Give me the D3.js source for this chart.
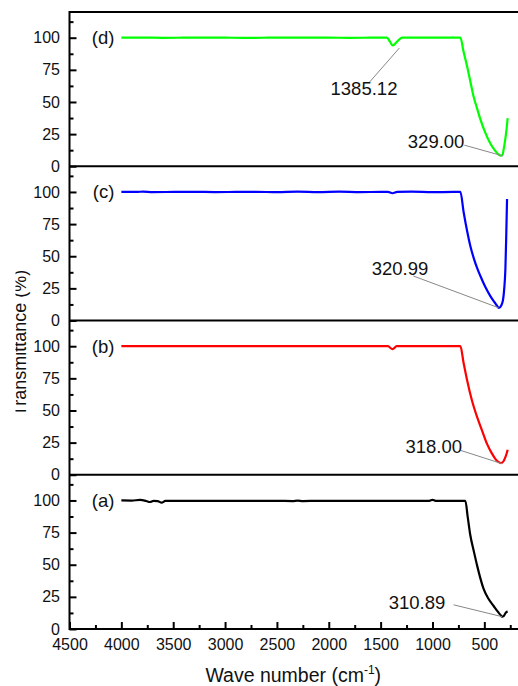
<!DOCTYPE html>
<html>
<head>
<meta charset="utf-8">
<script src="https://cdn.jsdelivr.net/npm/d3@7"></script>
<style>
body { margin: 0; background: #fff; }
svg { display: block; font-family: "Liberation Sans", Arial, sans-serif; }
</style>
</head>
<body>
<div id="chart"></div>
<script>
// x axis
const WAVE_TICKS = [4500, 4000, 3500, 3000, 2500, 2000, 1500, 1000, 500];
const WAVE_MINOR = [4250, 3750, 3250, 2750, 2250, 1750, 1250, 750, 250];
const Y_TICKS = [0, 25, 50, 75, 100];
const Y_MINOR = [12.5, 37.5, 62.5, 87.5, 112.5];

// panels top to bottom
const PANEL_LABELS = ["(d)", "(c)", "(b)", "(a)"];
const PANEL_COLORS = ["#00ff00", "#0000ff", "#ff0000", "#000000"];

// [wave number, transmittance %]
const spectrumD = [[4000,100],[3800,100.1],[3600,99.9],[3400,100],[3200,100.1],[3000,100],[2800,99.9],[2600,100],
	[2400,100.1],[2200,100],[2000,100],[1800,99.9],[1600,100],[1440,100],[1410,97],[1384,94],[1341,97],[1293,100],
	[1100,100],[900,100.1],[760,100],[731,100],[700,89],[666,77.6],[635,66],[603,54],[570,45],[538,36.5],[490,26],
	[442,17.7],[400,12.5],[365,9.3],[340,8.2],[325,8.8],[313,13.5],[300,20],[287,28],[275,37.5]];
const spectrumC = [[4000,100],[3850,100],[3790,100.3],[3700,99.9],[3500,100],[3300,100.1],[3100,99.9],[2900,100],
	[2700,100.1],[2500,99.8],[2300,100.2],[2100,99.8],[1900,100.2],[1700,99.9],[1500,100],[1430,100],[1385,99],
	[1340,100],[1200,100.2],[1000,99.8],[800,100],[731,100],[699,84],[667,70],[635,58],[600,48],[570,41],[538,34.6],
	[490,26],[442,19],[400,14],[375,11.2],[360,9.8],[345,10.6],[330,13],[319,16.4],[308,25],[297,40],[289,65],[281,94.5]];
const spectrumB = [[4000,100],[3600,100],[3200,100],[2800,100],[2400,100],[2000,100],[1600,100],[1430,100],[1385,97.7],
	[1345,100],[1000,100],[731,100],[700,87],[666,73.5],[620,58],[570,45],[520,34],[474,24],[430,17],[394,12.4],
	[365,10],[339,9],[315,10.5],[297,13.7],[285,16.5],[275,19.5]];
const spectrumA = [[4000,100],[3900,99.9],[3820,100.4],[3760,99.6],[3724,98.8],[3690,99.6],[3650,99.5],[3612,98.3],
	[3575,99.6],[3500,99.6],[3300,99.7],[3100,99.6],[2900,99.7],[2700,99.6],[2500,99.7],[2350,99.5],[2300,99.9],
	[2250,99.5],[2100,99.7],[1900,99.6],[1700,99.7],[1500,99.6],[1300,99.7],[1100,99.6],[1030,99.7],[1000,100.5],
	[970,99.7],[800,99.7],[683,99.7],[660,87],[635,72.9],[600,60],[570,49.5],[540,40],[506,31],[460,23.5],[410,17.9],
	[370,13.5],[345,11],[329,9.6],[315,10],[300,11.8],[290,13],[275,13.5]];
const SPECTRA = [spectrumD, spectrumC, spectrumB, spectrumA];

// peak labels: text, point on curve, text anchor, leader start (data units)
const PEAK_TEXT = ["1385.12", "329.00", "320.99", "318.00", "310.89"];
const PEAK_PANEL = [0, 0, 1, 2, 3];
const PEAK_AT = [[1319,92], [319,8], [362,9.9], [329,8.6], [329,9.6]];
const PEAK_LABEL = [[1338,55.5], [692,14], [1040,35.1], [715,16.6], [876,15.4]];
const PEAK_FROM = [[1614,64.8], [692,16.4], [1184,34.6], [731,19], [796,18.8]];

const W = 518, H = 686;
const LEFT = 69.5, RIGHT = 517, TOP = 12, BOTTOM = 629;
const PANEL_H = (BOTTOM - TOP) / PANEL_LABELS.length;

const svg = d3.select("#chart").append("svg")
	.attr("width", W)
	.attr("height", H);

const x = d3.scaleLinear().domain([4500, 185]).range([LEFT, RIGHT]);

PANEL_LABELS.forEach((lab, i) => {
	const top = TOP + i * PANEL_H;
	const y = d3.scaleLinear().domain([0, 120]).range([top + PANEL_H, top]);
	const g = svg.append("g");

	// left ticks, pointing inward
	const ax = g.append("g")
		.attr("transform", `translate(${LEFT},0)`)
		.call(d3.axisLeft(y).tickValues(Y_TICKS).tickSize(-7).tickPadding(9.5));
	ax.select(".domain").remove();
	ax.selectAll("line").attr("stroke-width", 2);
	ax.selectAll("text").style("font-size", "16px").attr("fill", "#111");

	const mn = g.append("g")
		.attr("transform", `translate(${LEFT},0)`)
		.call(d3.axisLeft(y).tickValues(Y_MINOR).tickSize(-4).tickFormat(""));
	mn.select(".domain").remove();
	mn.selectAll("line").attr("stroke-width", 2);

	// spectrum
	const line = d3.line()
		.x(d => x(d[0]))
		.y(d => y(d[1]))
		.curve(d3.curveMonotoneX);
	g.append("path")
		.datum(SPECTRA[i])
		.attr("d", line)
		.attr("fill", "none")
		.attr("stroke", PANEL_COLORS[i])
		.attr("stroke-width", 2.2)
		.attr("stroke-linejoin", "round");

	g.append("text")
		.attr("x", x(4000) - 7)
		.attr("y", y(100))
		.attr("dy", "0.35em")
		.attr("text-anchor", "end")
		.style("font-size", "18.5px")
		.attr("fill", "#111")
		.text(lab);

	// panel bottom line
	g.append("line")
		.attr("x1", LEFT).attr("x2", W)
		.attr("y1", y(0)).attr("y2", y(0))
		.attr("stroke", "#000")
		.attr("stroke-width", 2);

	// peak annotations
	PEAK_TEXT.forEach((t, k) => {
		if (PEAK_PANEL[k] !== i) return;
		g.append("line")
			.attr("x1", x(PEAK_FROM[k][0])).attr("y1", y(PEAK_FROM[k][1]))
			.attr("x2", x(PEAK_AT[k][0])).attr("y2", y(PEAK_AT[k][1]))
			.attr("stroke", "#888")
			.attr("stroke-width", 1);
		g.append("text")
			.attr("x", x(PEAK_LABEL[k][0]))
			.attr("y", y(PEAK_LABEL[k][1]))
			.attr("text-anchor", "end")
			.style("font-size", "18.5px")
			.attr("fill", "#111")
			.text(t);
	});
});

// frame: left axis and top line
svg.append("line")
	.attr("x1", LEFT).attr("x2", LEFT)
	.attr("y1", TOP - 1).attr("y2", BOTTOM + 1)
	.attr("stroke", "#000").attr("stroke-width", 2);
svg.append("line")
	.attr("x1", LEFT).attr("x2", W)
	.attr("y1", TOP).attr("y2", TOP)
	.attr("stroke", "#000").attr("stroke-width", 2);

// bottom axis
const xa = svg.append("g")
	.attr("transform", `translate(0,${BOTTOM})`)
	.call(d3.axisBottom(x).tickValues(WAVE_TICKS).tickSize(-7).tickPadding(10).tickFormat(d3.format("d")));
xa.select(".domain").remove();
xa.selectAll("line").attr("stroke-width", 2);
xa.selectAll("text").style("font-size", "16px").attr("fill", "#111");

const xm = svg.append("g")
	.attr("transform", `translate(0,${BOTTOM})`)
	.call(d3.axisBottom(x).tickValues(WAVE_MINOR).tickSize(-4).tickFormat(""));
xm.select(".domain").remove();
xm.selectAll("line").attr("stroke-width", 2);

// axis titles
const xt = svg.append("text")
	.attr("x", (LEFT + RIGHT) / 2)
	.attr("y", 682)
	.attr("text-anchor", "middle")
	.style("font-size", "19.5px")
	.attr("fill", "#111");
xt.append("tspan").text("Wave number (cm");
xt.append("tspan").attr("dy", -8).style("font-size", "12px").text("-1");
xt.append("tspan").attr("dy", 8).text(")");

// y title is cut at its top edge in the original
svg.append("clipPath").attr("id", "yclip")
	.append("rect").attr("x", 15.5).attr("y", 0).attr("width", W).attr("height", H);
svg.append("g")
	.attr("clip-path", "url(#yclip)")
	.append("text")
	.attr("transform", "translate(26,343) rotate(-90)")
	.attr("text-anchor", "middle")
	.style("font-size", "18px")
	.attr("fill", "#111")
	.text("Transmittance (%)");
</script>
</body>
</html>
